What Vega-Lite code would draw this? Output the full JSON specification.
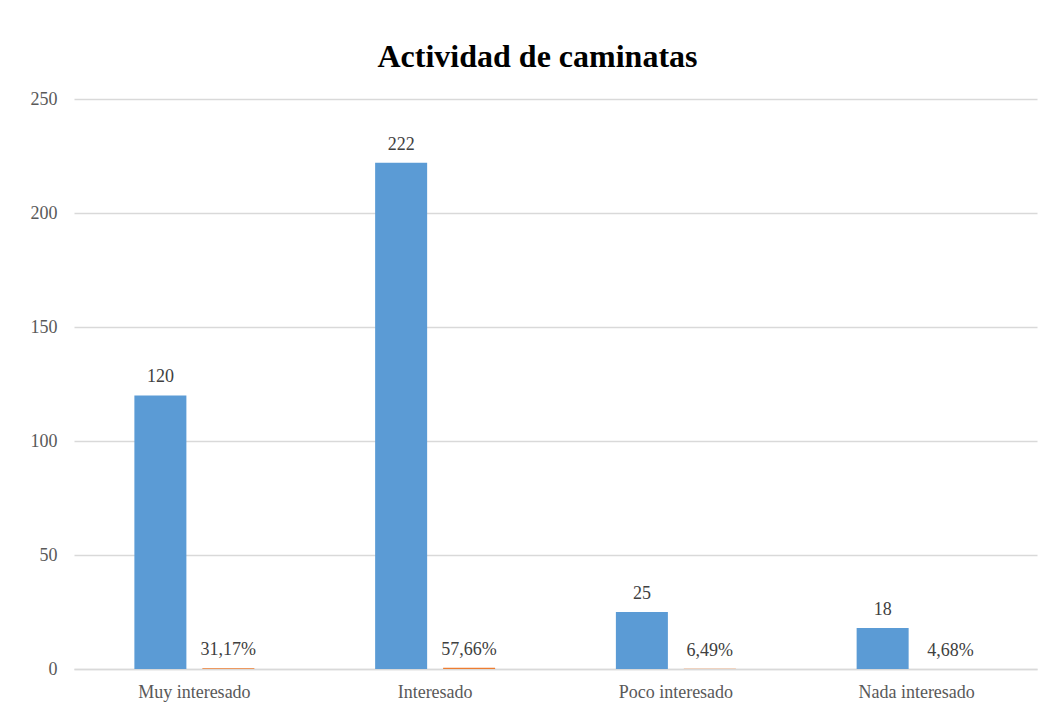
{
  "$schema": "https://vega.github.io/schema/vega-lite/v6.json",
  "width": 963,
  "height": 570,
  "autosize": {"type": "none"},
  "padding": {"left": 74, "top": 99, "right": 13, "bottom": 44},
  "background": "white",
  "config": {"view": {"stroke": null}},
  "title": {
    "text": "Actividad de caminatas",
    "font": "Liberation Serif",
    "fontSize": 32,
    "fontWeight": "bold",
    "color": "#000000",
    "anchor": "middle",
    "frame": "group",
    "dx": -18,
    "offset": 16
  },
  "data": {
    "values": [
      {"cat": "Muy interesado", "series": "count", "value": 120, "label": "120"},
      {"cat": "Muy interesado", "series": "pct", "value": 0.3117, "label": "31,17%"},
      {"cat": "Interesado", "series": "count", "value": 222, "label": "222"},
      {"cat": "Interesado", "series": "pct", "value": 0.5766, "label": "57,66%"},
      {"cat": "Poco interesado", "series": "count", "value": 25, "label": "25"},
      {"cat": "Poco interesado", "series": "pct", "value": 0.0649, "label": "6,49%"},
      {"cat": "Nada interesado", "series": "count", "value": 18, "label": "18"},
      {"cat": "Nada interesado", "series": "pct", "value": 0.0468, "label": "4,68%"}
    ]
  },
  "encoding": {
    "x": {
      "field": "cat",
      "type": "nominal",
      "sort": ["Muy interesado", "Interesado", "Poco interesado", "Nada interesado"],
      "scale": {"paddingInner": 0.5016, "paddingOuter": 0.2508},
      "axis": {
        "title": null,
        "labelAngle": 0,
        "labelFont": "Liberation Serif",
        "labelFontSize": 18,
        "labelColor": "#595959",
        "labelPadding": 14,
        "ticks": false,
        "domainColor": "#d9d9d9",
        "domainWidth": 1.5
      }
    },
    "xOffset": {
      "field": "series",
      "type": "nominal",
      "sort": ["count", "pct"],
      "scale": {"paddingInner": 0.235, "paddingOuter": 0}
    },
    "y": {
      "field": "value",
      "type": "quantitative",
      "scale": {"domain": [0, 250]},
      "axis": {
        "title": null,
        "values": [0, 50, 100, 150, 200, 250],
        "labelFont": "Liberation Serif",
        "labelFontSize": 18,
        "labelColor": "#595959",
        "labelPadding": 17,
        "ticks": false,
        "domain": false,
        "gridColor": "#d9d9d9",
        "gridWidth": 1.5
      }
    }
  },
  "layer": [
    {
      "mark": {"type": "bar"},
      "encoding": {
        "color": {
          "field": "series",
          "type": "nominal",
          "scale": {"domain": ["count", "pct"], "range": ["#5B9BD5", "#ED7D31"]},
          "legend": null
        }
      }
    },
    {
      "mark": {
        "type": "text",
        "font": "Liberation Serif",
        "fontSize": 18,
        "color": "#404040",
        "dy": -13,
        "baseline": "alphabetic"
      },
      "encoding": {
        "text": {"field": "label", "type": "nominal"}
      }
    }
  ]
}
